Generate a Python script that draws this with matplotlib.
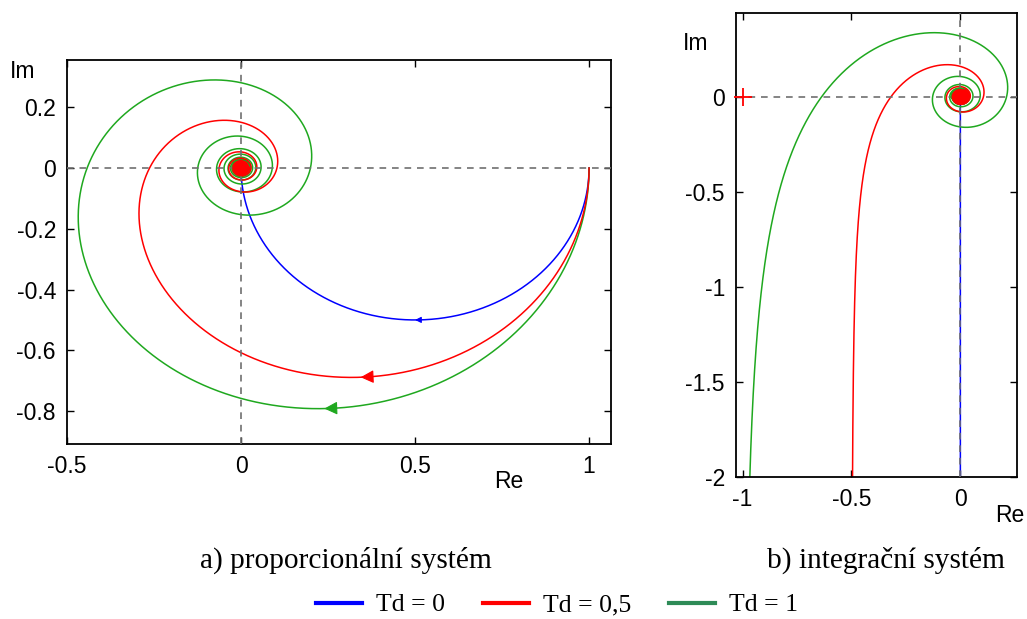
import numpy as np
import matplotlib.pyplot as plt
from matplotlib.lines import Line2D

# delays of the three systems and how they are shown
td_values = [0, 0.5, 1]
td_labels = ['Td = 0', 'Td = 0,5', 'Td = 1']
curve_colors = ['#0000ff', '#ff0000', '#1fa81f']
legend_colors = ['#0000ff', '#ff0000', '#2e8b57']

# frequencies where the direction arrows sit (left plot)
arrow_freqs = [1.0, 0.83, 0.68]
arrow_sizes = [9, 20, 20]

# frequency range of the nyquist curves
w_start_p = 1e-4
w_start_i = 0.2
w_stop = 3000
# above these the spiral is drawn as a filled blob
w_blob_p = 60
w_blob_i = 33

left_xticks = [-0.5, 0, 0.5, 1]
left_xlabels = ['-0.5', '0', '0.5', '1']
left_yticks = [0.2, 0, -0.2, -0.4, -0.6, -0.8]
left_ylabels = ['0.2', '0', '-0.2', '-0.4', '-0.6', '-0.8']
right_xticks = [-1, -0.5, 0]
right_xlabels = ['-1', '-0.5', '0']
right_yticks = [0, -0.5, -1, -1.5, -2]
right_ylabels = ['0', '-0.5', '-1', '-1.5', '-2']

critical_point = (-1, 0)

captions = ['a) proporcionální systém', 'b) integrační systém']

TICK_SIZE = 16.5


def prop_system(w, td):
    # e^(-Td s) / (s + 1)
    s = 1j * w
    return np.exp(-td * s) / (s + 1)


def int_system(w, td):
    # e^(-Td s) / s
    s = 1j * w
    return np.exp(-td * s) / s


def draw_nyquist(ax, func, w_start, w_blob, arrows):
    w = np.geomspace(w_start, w_stop, 400000)
    order = [0, 2, 1]  # red ends on top in the middle
    for i in order:
        td = td_values[i]
        g = func(w, td)
        thin = w <= w_blob
        ax.plot(g.real[thin], g.imag[thin], color=curve_colors[i], lw=1.1, zorder=2)
        if td > 0:
            ax.plot(g.real[~thin], g.imag[~thin], color=curve_colors[i], lw=5,
                    zorder=5, solid_capstyle='round')
        else:
            ax.plot(g.real[~thin], g.imag[~thin], color=curve_colors[i], lw=1.1, zorder=2)
        if arrows:
            wa = arrow_freqs[i]
            p0 = func(np.array([wa - 0.02]), td)[0]
            p1 = func(np.array([wa]), td)[0]
            ax.annotate('', xy=(p1.real, p1.imag), xytext=(p0.real, p0.imag),
                        arrowprops=dict(arrowstyle='-|>', color=curve_colors[i],
                                        lw=0.8, mutation_scale=arrow_sizes[i],
                                        shrinkA=0, shrinkB=0), zorder=3)
    ax.axhline(0, color='#707070', ls=(0, (4, 3.5)), lw=1.2, zorder=4)
    ax.axvline(0, color='#707070', ls=(0, (4, 3.5)), lw=1.2, zorder=4)


def style_axes(ax):
    for sp in ax.spines.values():
        sp.set_linewidth(1.3)
    ax.tick_params(direction='in', length=5, width=1, top=True, right=True,
                   labelsize=TICK_SIZE, pad=8, colors='black')


plt.rcParams['font.family'] = ['Liberation Sans', 'DejaVu Sans']

fig = plt.figure(figsize=(10.27, 6.19), dpi=100)

ax1 = fig.add_axes([67 / 1027, 1 - 444 / 619, 544 / 1027, 384 / 619])
draw_nyquist(ax1, prop_system, w_start_p, w_blob_p, True)
ax1.set_xlim(-0.5, 1.063)
ax1.set_ylim(-0.908, 0.355)
ax1.set_xticks(left_xticks)
ax1.set_xticklabels(left_xlabels)
ax1.set_yticks(left_yticks)
ax1.set_yticklabels(left_ylabels)
style_axes(ax1)
fig.text(10 / 1027, 1 - 72 / 619, 'Im', fontsize=TICK_SIZE, va='center', ha='left')
fig.text(494 / 1027, 1 - 481 / 619, 'Re', fontsize=TICK_SIZE, va='center', ha='left')

ax2 = fig.add_axes([736 / 1027, 1 - 477 / 619, 281 / 1027, 464 / 619])
draw_nyquist(ax2, int_system, w_start_i, w_blob_i, False)
ax2.plot(*critical_point, marker='+', color='#ff0000', ms=13, mew=1.3, zorder=5,
         clip_on=False)
ax2.set_xlim(-1.03, 0.26)
ax2.set_ylim(-2, 0.44)
ax2.set_xticks(right_xticks)
ax2.set_xticklabels(right_xlabels)
ax2.set_yticks(right_yticks)
ax2.set_yticklabels(right_ylabels)
style_axes(ax2)
fig.text(683 / 1027, 1 - 44 / 619, 'Im', fontsize=TICK_SIZE, va='center', ha='left')
fig.text(995 / 1027, 1 - 515 / 619, 'Re', fontsize=TICK_SIZE, va='center', ha='left')

# captions under the plots
fig.text(346 / 1027, 1 - 560 / 619, captions[0], family='Liberation Serif',
         fontsize=21.2, ha='center', va='center')
fig.text(886 / 1027, 1 - 560 / 619, captions[1], family='Liberation Serif',
         fontsize=21.2, ha='center', va='center')

handles = [Line2D([], [], color=c, lw=3) for c in legend_colors]
fig.legend(handles, td_labels, loc='center', bbox_to_anchor=(557 / 1027, 1 - 605 / 619),
           ncol=3, frameon=False, prop={'family': 'Liberation Serif', 'size': 18.5},
           handlelength=1.8, handletextpad=0.55, columnspacing=1.45,
           borderpad=0, borderaxespad=0)

fig.savefig('out.png', dpi=100)
